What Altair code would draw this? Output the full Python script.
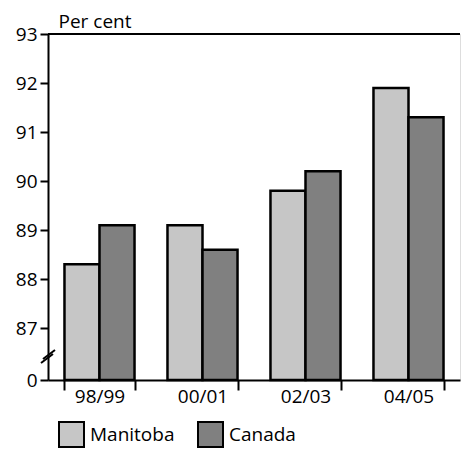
import altair as alt
import pandas as pd

years = ["98/99", "00/01", "02/03", "04/05"]
manitoba = [88.3, 89.1, 89.8, 91.9]
canada = [89.1, 88.6, 90.2, 91.3]
series = ["Manitoba", "Canada"]
colors = ["#c6c6c6", "#808080"]
y_ticks = [85.94, 87, 88, 89, 90, 91, 92, 93]
BASE = 85.94

rows = []
for i, yr in enumerate(years):
    rows.append({"year": yr, "series": "Manitoba", "value": manitoba[i]})
    rows.append({"year": yr, "series": "Canada", "value": canada[i]})
df = pd.DataFrame(rows)

FONT = "Open Sans"

yscale = alt.Scale(domain=[BASE, 93], zero=False, nice=False)

bars = alt.Chart(df).mark_bar(stroke="black", strokeWidth=2.5, strokeJoin="miter").encode(
    x=alt.X("year:N", sort=years, title=None,
            scale=alt.Scale(paddingInner=0.32, paddingOuter=0.16),
            axis=alt.Axis(tickBand="extent", labelAngle=0, labelFont=FONT, labelFontSize=19,
                          labelColor="black", domainColor="black", domainWidth=2,
                          tickColor="black", tickWidth=2, tickSize=10, labelPadding=-3,
                          labelBaseline="top")),
    xOffset=alt.XOffset("series:N", sort=series,
                        scale=alt.Scale(paddingInner=0, paddingOuter=0)),
    y=alt.Y("value:Q", scale=yscale,
            axis=alt.Axis(values=y_ticks, labelExpr="datum.value < 86 ? '0' : datum.label",
                          grid=False, title="Per cent", titleAngle=0, titleAlign="left",
                          titleBaseline="alphabetic", titleX=10, titleY=-7,
                          titleFont=FONT, titleFontSize=19, titleFontWeight="normal",
                          titleColor="black",
                          labelFont=FONT, labelFontSize=19, labelColor="black",
                          domainColor="black", domainWidth=2, tickColor="black",
                          tickWidth=2, tickSize=8, labelPadding=3)),
    y2=alt.Y2(datum=BASE),
    color=alt.Color("series:N", sort=series,
                    scale=alt.Scale(domain=series, range=colors),
                    legend=alt.Legend(title=None, orient="none", legendX=10, legendY=387,
                                      direction="horizontal", symbolType="square",
                                      symbolSize=625, symbolStrokeColor="black",
                                      symbolStrokeWidth=2, labelFont=FONT, labelFontSize=19,
                                      labelColor="black", labelOffset=5, columnPadding=19)),
)

top_line = alt.Chart(alt.Data(values=[{}])).mark_rule(color="black", strokeWidth=2).encode(
    y=alt.Y(datum=93, scale=yscale)
)

brk1 = alt.Chart(alt.Data(values=[{}])).mark_rule(color="black", strokeWidth=2).encode(
    x=alt.value(-7), x2=alt.value(5), y=alt.value(329), y2=alt.value(320)
)
brk2 = alt.Chart(alt.Data(values=[{}])).mark_rule(color="black", strokeWidth=2).encode(
    x=alt.value(-5), x2=alt.value(7), y=alt.value(325), y2=alt.value(316)
)

chart = alt.layer(bars, top_line, brk1, brk2).properties(
    width=412, height=346,
    autosize=alt.AutoSizeParams(type="none"),
    padding={"left": 40, "top": 26, "right": 1, "bottom": 73},
).configure_view(stroke=None).configure(background="white")

chart.save("out.html", embed_options={"renderer": "svg", "actions": False})
